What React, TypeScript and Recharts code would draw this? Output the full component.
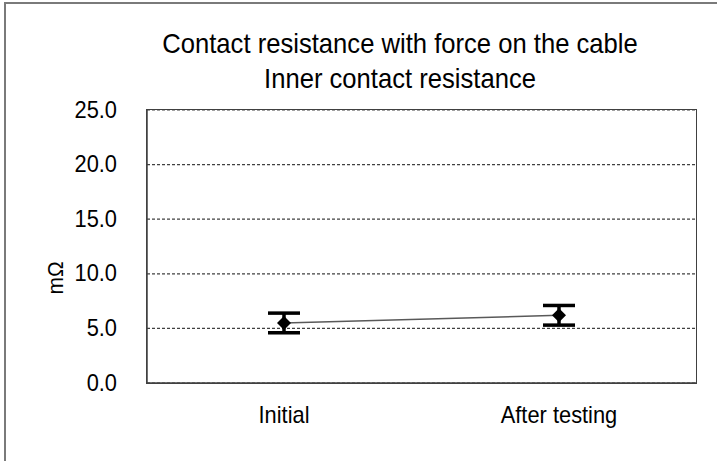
import { LineChart, Line, XAxis, YAxis, CartesianGrid, ErrorBar } from 'recharts';

const categories = ['Initial', 'After testing'];
const means = [5.5, 6.2];
const errors = [0.9, 0.9];
const yTicks = [0, 5, 10, 15, 20, 25];

const data = categories.map((name, i) => ({ name, value: means[i], err: errors[i] }));

const FONT = '"Liberation Sans", Arial, sans-serif';

const YTick = ({ x, y, payload }: any) => (
  <text
    transform={`translate(${x},${y}) scale(0.95,1)`}
    textAnchor="end"
    dominantBaseline="central"
    fontSize={23}
    fontFamily={FONT}
    fill="#000"
  >
    {Number(payload.value).toFixed(1)}
  </text>
);

const XTick = ({ x, y, payload }: any) => (
  <text
    transform={`translate(${x},${y}) scale(0.95,1)`}
    textAnchor="middle"
    fontSize={23}
    fontFamily={FONT}
    fill="#000"
  >
    {payload.value}
  </text>
);

const Diamond = ({ cx, cy }: any) => {
  if (cx == null || cy == null) return null;
  const r = 7;
  return (
    <polygon
      points={`${cx},${cy - r} ${cx + r},${cy} ${cx},${cy + r} ${cx - r},${cy}`}
      fill="#000"
    />
  );
};

const YLabel = () => (
  <text
    transform="translate(56,278) rotate(-90) scale(0.95,1)"
    textAnchor="middle"
    dominantBaseline="central"
    fontSize={22}
    fontFamily={FONT}
    fill="#000"
  >
    mΩ
  </text>
);

const App = () => {
  return (
    <div style={{ position: 'relative', width: 717, height: 461, marginLeft: -8, marginTop: -8, background: '#fff', overflow: 'hidden' }}>
      <div style={{ position: 'absolute', left: 0, top: 0 }}>
        <LineChart width={717} height={461} data={data} margin={{ top: 110, right: 21, left: 0, bottom: 18 }}>
          <CartesianGrid vertical={false} stroke="#404040" strokeDasharray="3 2" strokeWidth={1.2} />
          <XAxis
            dataKey="name"
            padding={{ left: 137, right: 137 }}
            height={60}
            tickLine={false}
            tickSize={0}
            tickMargin={40}
            tick={<XTick />}
            axisLine={{ stroke: '#404040', strokeWidth: 1.5 }}
          />
          <YAxis
            domain={[0, 25]}
            ticks={yTicks}
            width={147}
            tickLine={false}
            tickSize={0}
            tickMargin={30}
            tick={<YTick />}
            axisLine={{ stroke: '#404040', strokeWidth: 1.5 }}
            label={{ content: <YLabel /> }}
          />
          <Line
            dataKey="value"
            stroke="#595959"
            strokeWidth={1.5}
            dot={<Diamond />}
            activeDot={false}
            isAnimationActive={false}
          >
            <ErrorBar dataKey="err" width={16} strokeWidth={3.5} stroke="#000" direction="y" isAnimationActive={false} />
          </Line>
        </LineChart>
      </div>
      {/* plot area box */}
      <div
        style={{
          position: 'absolute',
          left: 146,
          top: 109,
          width: 549,
          height: 273,
          border: '1.5px solid #404040',
          zIndex: 5,
          pointerEvents: 'none',
        }}
      />
      {/* title */}
      <svg width={717} height={461} style={{ position: 'absolute', left: 0, top: 0, zIndex: 6, pointerEvents: 'none' }}>
        <text transform="translate(400,53) scale(0.915,1)" textAnchor="middle" fontSize={28} fontFamily={FONT} fill="#000">
          Contact resistance with force on the cable
        </text>
        <text transform="translate(400,88) scale(0.915,1)" textAnchor="middle" fontSize={28} fontFamily={FONT} fill="#000">
          Inner contact resistance
        </text>
      </svg>
      {/* outer chart frame */}
      <svg width={717} height={461} style={{ position: 'fixed', left: 0, top: 0, zIndex: 7, pointerEvents: 'none' }}>
        <path d="M5,461 V3 H717" fill="none" stroke="#7a7a7a" strokeWidth={2} />
      </svg>
    </div>
  );
};

export default App;
